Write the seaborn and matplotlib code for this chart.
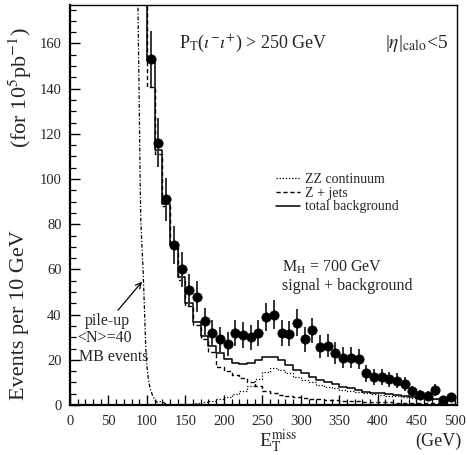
import numpy as np
import matplotlib
matplotlib.use("Agg")
import matplotlib.pyplot as plt
import seaborn as sns
from matplotlib.lines import Line2D
from matplotlib.ticker import MultipleLocator

sns.set_style("ticks")
plt.rcParams["font.family"] = ["Liberation Serif", "DejaVu Serif"]
plt.rcParams["mathtext.fontset"] = "stix"

# ---- data ----
bin_width = 10
first_edge = 100
data_values = [153, 116, 91, 71, 60, 51, 48, 37, 32, 29,
               27, 32, 31, 30, 32, 39, 40, 32, 31.5, 36.5,
               29, 33, 25.7, 26.3, 23, 21, 21, 20.5, 14, 12.5,
               12.3, 11.3, 10.8, 9.3, 6.0, 4.6, 4.2, 6.8, 2.3, 3.5]
data_errors = [12.4, 10.8, 9.5, 8.4, 7.7, 7.1, 6.9, 6.1, 5.7, 5.4,
               5.2, 5.7, 5.6, 5.5, 5.7, 6.2, 6.3, 5.7, 5.6, 6.0,
               5.4, 5.7, 5.1, 5.1, 4.8, 4.6, 4.6, 4.5, 3.7, 3.5,
               3.5, 3.4, 3.3, 3.0, 2.4, 2.1, 2.0, 2.6, 1.5, 1.9]
# first value is the off-scale 90-100 GeV bin
total_bkg = [400, 152, 113, 88.8, 71, 56.5, 45, 36.8, 30.5, 26, 22.8,
             20.2, 18.7, 18.1, 18.7, 19.9, 21.4, 21.4, 19.9, 17.7, 15.5,
             14, 12.4, 11, 10.3, 9.2, 8.1, 7.4, 6.6, 5.9, 5.4,
             5.1, 5.0, 4.4, 4.2, 3.4, 3.2, 3.0, 2.8, 2.5, 2.3]
z_jets = [400, 140.5, 111, 88, 70, 55.5, 44, 35.5, 29, 23.6, 16.8,
          15.2, 13.3, 11.9, 10.3, 8.2, 6.4, 5.4, 4.6, 4.0, 3.4,
          3.1, 2.8, 2.5, 2.3, 2.1, 1.9, 1.7, 1.6, 1.5, 1.4,
          1.3, 1.2, 1.1, 1.0, 0.9, 0.8, 0.8, 0.7, 0.6, 0.5]
zz_cont = [np.nan, 0, 0, 0.1, 0.2, 0.3, 0.5, 0.8, 1.2, 1.8, 2.5,
           3.5, 4.8, 6.2, 8.4, 11.5, 14.8, 16.2, 15.5, 14.3, 12.5,
           11.2, 10, 8.8, 8.1, 7.4, 6.6, 6.1, 5.6, 5.2, 4.8,
           4.5, 4.2, 3.8, 3.5, 3.1, 2.9, 2.7, 2.5, 2.3, 2.1]
pileup_x = [88, 89.8, 91, 92, 93.5, 95, 96.5, 98.5, 100, 102, 104, 107, 110, 113, 117, 121, 125]
pileup_y = [185, 138, 104, 82, 70, 60, 45, 25, 17, 11, 7.5, 4.5, 2.5, 1.2, 1.5, 1.2, 0.4]

n_data = len(data_values)
centers = first_edge + bin_width / 2 + bin_width * np.arange(n_data)
edges = first_edge - bin_width + bin_width * np.arange(len(total_bkg) + 1)

def step_xy(vals):
    v = list(vals) + [vals[-1]]
    return edges, v

fig = plt.figure(figsize=(4.67, 4.55), dpi=100)
ax = fig.add_axes([70/467, 1-405/455, 387/467, 400/455])

x, y = step_xy(zz_cont)
sns.lineplot(x=x, y=y, ax=ax, drawstyle="steps-post", color="black", lw=0.9,
             linestyle=(0, (1, 1.5)), estimator=None, sort=False)
x, y = step_xy(z_jets)
sns.lineplot(x=x, y=y, ax=ax, drawstyle="steps-post", color="black", lw=1.0,
             linestyle=(0, (3, 2)), estimator=None, sort=False)
x, y = step_xy(total_bkg)
sns.lineplot(x=x, y=y, ax=ax, drawstyle="steps-post", color="black", lw=1.1,
             estimator=None, sort=False)
sns.lineplot(x=pileup_x, y=pileup_y, ax=ax, color="black", lw=0.9,
             linestyle=(0, (3, 1.5, 1, 1.5)), estimator=None, sort=False)

ax.errorbar(centers, data_values, yerr=data_errors, fmt="none", ecolor="#333333",
            elinewidth=1.4, capsize=0, zorder=3)
sns.scatterplot(x=centers, y=data_values, ax=ax, color="black", s=45,
                edgecolor="black", linewidth=0.5, zorder=4)

ax.set_xlim(0, 503)
ax.set_ylim(0, 177)
ax.xaxis.set_major_locator(MultipleLocator(50))
ax.xaxis.set_minor_locator(MultipleLocator(10))
ax.yaxis.set_major_locator(MultipleLocator(20))
ax.yaxis.set_minor_locator(MultipleLocator(5))
ax.tick_params(which="both", direction="in", top=False, right=False,
               labelsize=10.5, color="black")
ax.tick_params(axis="x", which="major", pad=7)
ax.tick_params(axis="y", which="major", pad=6)
ax.tick_params(which="major", length=7, width=1.0)
ax.tick_params(which="minor", length=4, width=0.9)
for s in ["left", "bottom"]:
    ax.spines[s].set_linewidth(1.6)
for s in ["top", "right"]:
    ax.spines[s].set_linewidth(1.0)
for s in ax.spines.values():
    s.set_color("black")
ax.set_xlabel("")
ax.set_ylabel("")

# texts
ax.text(142, 160, r"P$_\mathrm{T}$($\iota^{-}\iota^{+}$) > 250 GeV", fontsize=13,
        ha="left", va="center")
ax.text(410, 160, r"|$\eta$|$_\mathrm{calo}$<5", fontsize=14, ha="left", va="center")
ax.text(275, 61, r"M$_\mathrm{H}$ = 700 GeV", fontsize=11.5, ha="left", va="center")
ax.text(275, 52.5, "signal + background", fontsize=11.5, ha="left", va="center")
ax.text(48, 37, "pile-up", fontsize=11.5, ha="center", va="center")
ax.text(45, 29.5, "<N>=40", fontsize=11.5, ha="center", va="center")
ax.text(57, 21.3, "MB events", fontsize=11.5, ha="center", va="center")
ax.annotate("", xy=(96, 55.5), xytext=(60, 41),
            arrowprops=dict(arrowstyle="->", color="black", lw=0.9))

handles = [Line2D([], [], color="black", lw=0.9, linestyle=(0, (1, 1.5))),
           Line2D([], [], color="black", lw=1.0, linestyle=(0, (3, 2))),
           Line2D([], [], color="black", lw=1.1)]
labels = ["ZZ continuum", "Z + jets", "total background"]
leg = ax.legend(handles, labels, loc="upper left",
                bbox_to_anchor=((276-70)/387, (405-173)/400), frameon=False,
                fontsize=10, handlelength=1.7, handletextpad=0.4,
                labelspacing=0.05, borderpad=0, borderaxespad=0)

fig.text(20/467, 1-315/455, "Events per 10 GeV", rotation=90, fontsize=16,
         ha="center", va="center")
fig.text(20/467, 1-88/455, r"(for 10$^5$pb$^{-1}$)", rotation=90, fontsize=16,
         ha="center", va="center")
fig.text(278/467, 1-441/455, r"E$_\mathrm{T}^\mathrm{miss}$", fontsize=14,
         ha="center", va="center")
fig.text(438/467, 1-441/455, "(GeV)", fontsize=13, ha="center", va="center")

fig.savefig("out.png", dpi=100)
